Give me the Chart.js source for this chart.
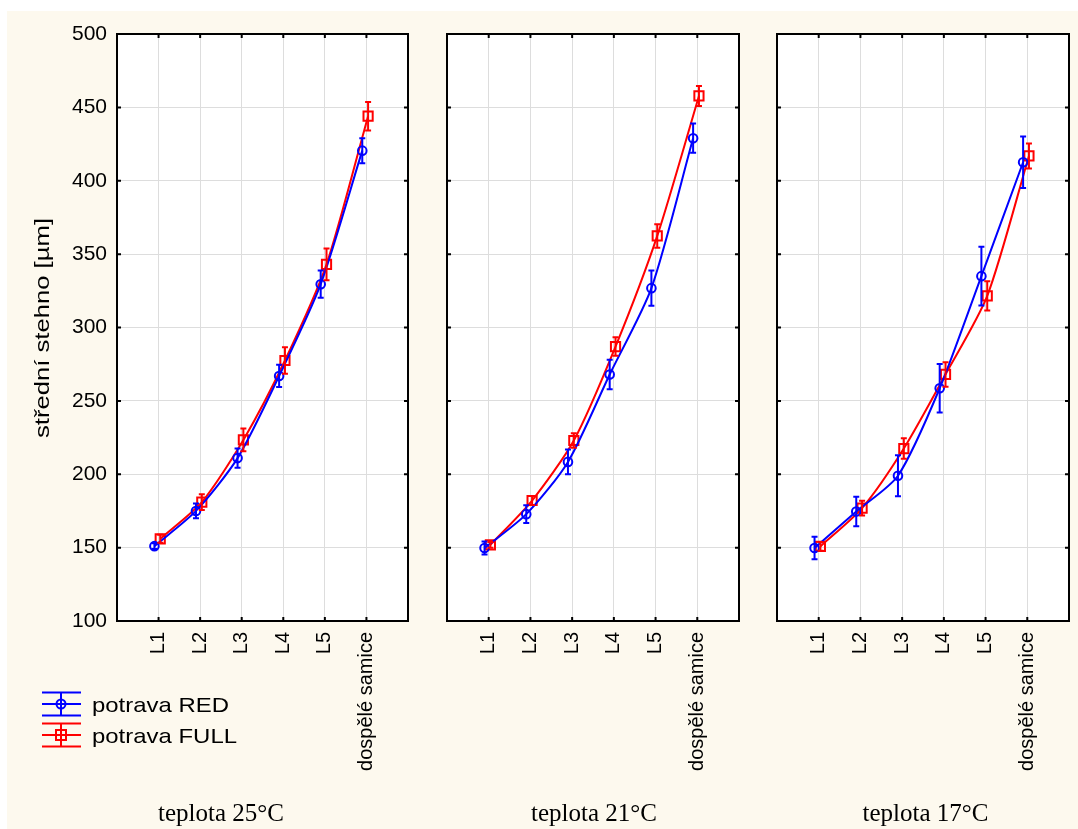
<!DOCTYPE html>
<html>
<head>
<meta charset="utf-8">
<script src="https://cdn.jsdelivr.net/npm/chart.js@4.4.1/dist/chart.umd.min.js"></script>
<style>
  body { margin: 0; background: #fff; }
  #page { position: relative; width: 1078px; height: 829px; overflow: hidden; }
  #bg { position: absolute; left: 7px; top: 11px; width: 1071px; height: 818px; background: #fdf9ee; }
  canvas { position: absolute; top: 11px; }
</style>
</head>
<body>
<div id="page">
  <div id="bg"></div>
  <canvas id="c1" style="left:7px;width:421px;height:818px" width="421" height="818"></canvas>
  <canvas id="c2" style="left:428px;width:330px;height:818px" width="330" height="818"></canvas>
  <canvas id="c3" style="left:758px;width:320px;height:818px" width="320" height="818"></canvas>
</div>
<script>
// data
const categories = ['L1', 'L2', 'L3', 'L4', 'L5', 'dospělé samice'];
const panelTitles = ['teplota 25°C', 'teplota 21°C', 'teplota 17°C'];
const seriesNames = ['potrava RED', 'potrava FULL'];
const yTicks = [100, 150, 200, 250, 300, 350, 400, 450, 500];

const red25 = [151, 175, 211, 267, 329.5, 420.5];
const redErr25 = [2, 5, 6.5, 7.6, 9.3, 8.5];
const full25 = [156, 181, 223.4, 277.5, 343, 444];
const fullErr25 = [2.7, 5.3, 7.7, 9, 10.8, 9.7];

const red21 = [149.7, 172.8, 208.4, 268, 326.8, 429];
const redErr21 = [4.4, 6, 8.4, 10, 12, 10];
const full21 = [151.9, 182.1, 223, 287, 362.4, 457.8];
const fullErr21 = [2, 3, 5, 6.3, 8, 6.8];

const red17 = [149.7, 174.6, 199, 258.6, 335, 412.6];
const redErr17 = [7.7, 10, 14, 16.6, 20, 17.6];
const full17 = [150.8, 176.9, 217.5, 268, 321.5, 416.9];
const fullErr17 = [3, 5, 7, 8.3, 10, 8.5];

const BLUE = '#0000ff';
const RED = '#ff0000';
const SANS = "'Liberation Sans', Arial, sans-serif";
const SERIF = "'Liberation Serif', 'Times New Roman', serif";

// stretch text to a given width (original text is a bit wider than Arial)
function fitText(ctx, text, x, y, width) {
  const w = ctx.measureText(text).width;
  ctx.save();
  ctx.translate(x, y);
  ctx.scale(width / w, 1);
  ctx.fillText(text, 0, 0);
  ctx.restore();
}

// white plot background
const plotBg = {
  id: 'plotBg',
  beforeDraw(chart) {
    const a = chart.chartArea;
    chart.ctx.save();
    chart.ctx.fillStyle = '#fff';
    chart.ctx.fillRect(a.left, a.top, a.right - a.left, a.bottom - a.top);
    chart.ctx.restore();
  }
};

const errorBars = {
  id: 'errorBars',
  afterDatasetsDraw(chart) {
    const ctx = chart.ctx, ys = chart.scales.y;
    chart.data.datasets.forEach((ds, di) => {
      const meta = chart.getDatasetMeta(di);
      ctx.save();
      ctx.strokeStyle = ds.borderColor;
      ctx.lineWidth = 2;
      meta.data.forEach((pt, i) => {
        const v = ds.data[i].y, e = ds.errors[i];
        const top = ys.getPixelForValue(v + e), bot = ys.getPixelForValue(v - e);
        ctx.beginPath();
        ctx.moveTo(pt.x, top); ctx.lineTo(pt.x, bot);
        ctx.moveTo(pt.x - 3, top); ctx.lineTo(pt.x + 3, top);
        ctx.moveTo(pt.x - 3, bot); ctx.lineTo(pt.x + 3, bot);
        ctx.stroke();
      });
      ctx.restore();
    });
  }
};

// black frame + short inner tick marks
const frame = {
  id: 'frame',
  afterDraw(chart) {
    const ctx = chart.ctx, a = chart.chartArea;
    ctx.save();
    ctx.strokeStyle = '#000';
    ctx.lineWidth = 2;
    ctx.strokeRect(a.left, a.top, a.right - a.left, a.bottom - a.top);
    ctx.beginPath();
    chart.scales.x.ticks.forEach(t => {
      const x = chart.scales.x.getPixelForValue(t.value);
      ctx.moveTo(x, a.top); ctx.lineTo(x, a.top + 4);
      ctx.moveTo(x, a.bottom); ctx.lineTo(x, a.bottom - 4);
    });
    chart.scales.y.ticks.forEach(t => {
      const y = chart.scales.y.getPixelForValue(t.value);
      ctx.moveTo(a.left, y); ctx.lineTo(a.left + 4, y);
      ctx.moveTo(a.right, y); ctx.lineTo(a.right - 4, y);
    });
    ctx.stroke();
    ctx.restore();
  }
};

const extras = {
  id: 'extras',
  afterDraw(chart, args, opts) {
    const ctx = chart.ctx;
    ctx.save();
    ctx.fillStyle = '#000';
    ctx.font = '25px ' + SERIF;
    ctx.textAlign = 'center';
    ctx.textBaseline = 'alphabetic';
    ctx.fillText(opts.title, opts.titleX, 810);

    if (opts.first) {
      // y axis title
      ctx.font = '21px ' + SANS;
      ctx.textBaseline = 'middle';
      ctx.save();
      ctx.translate(36, 317);
      ctx.rotate(-Math.PI / 2);
      ctx.textAlign = 'left';
      fitText(ctx, 'střední stehno [µm]', -110, 0, 220);
      ctx.restore();

      // legend
      const rows = [
        { name: seriesNames[0], color: BLUE, shape: 'circle', y: 693 },
        { name: seriesNames[1], color: RED, shape: 'rect', y: 724 }
      ];
      rows.forEach(r => {
        ctx.strokeStyle = r.color;
        ctx.lineWidth = 2;
        ctx.beginPath();
        [-11.5, 0, 11.5].forEach(dy => { ctx.moveTo(35, r.y + dy); ctx.lineTo(74, r.y + dy); });
        ctx.moveTo(54, r.y - 11.5); ctx.lineTo(54, r.y + 11.5);
        ctx.stroke();
        ctx.beginPath();
        if (r.shape === 'circle') ctx.arc(54, r.y, 4.5, 0, Math.PI * 2);
        else ctx.rect(49, r.y - 5, 10, 10);
        ctx.stroke();
        ctx.fillStyle = '#000';
        ctx.font = '21px ' + SANS;
        ctx.textAlign = 'left';
        ctx.textBaseline = 'middle';
        fitText(ctx, r.name, 85, r.y + 2, r.name === seriesNames[0] ? 137 : 145);
      });
    }
    ctx.restore();
  }
};

function points(values, offset) {
  return values.map((v, i) => ({ x: i + 1 + offset, y: v }));
}

function makePanel(id, idx, red, redErr, full, fullErr, yWidth, rightPad, titleX) {
  const first = idx === 0;
  new Chart(document.getElementById(id), {
    type: 'line',
    data: {
      datasets: [
        {
          label: seriesNames[0],
          data: points(red, -0.1),
          errors: redErr,
          borderColor: BLUE,
          backgroundColor: 'rgba(0,0,0,0)',
          borderWidth: 2,
          pointStyle: 'circle',
          pointRadius: 4.3,
          pointBorderWidth: 2,
          tension: 0.25
        },
        {
          label: seriesNames[1],
          data: points(full, 0.04),
          errors: fullErr,
          borderColor: RED,
          backgroundColor: 'rgba(0,0,0,0)',
          borderWidth: 2,
          pointStyle: 'rect',
          pointRadius: 6.5,
          pointBorderWidth: 2,
          tension: 0.25
        }
      ]
    },
    options: {
      responsive: false,
      animation: false,
      layout: { padding: { top: 23, right: rightPad, bottom: 0, left: 0 } },
      plugins: {
        legend: { display: false },
        tooltip: { enabled: false },
        extras: { title: panelTitles[idx], titleX: titleX, first: first }
      },
      scales: {
        x: {
          type: 'linear',
          min: 0,
          max: 7,
          afterFit: s => { s.height = 208; s.paddingLeft = 0; s.paddingRight = 0; },
          afterBuildTicks: s => { s.ticks = [0, 1, 2, 3, 4, 5, 6, 7].map(v => ({ value: v })); },
          grid: { color: '#dddddd', lineWidth: 1, drawTicks: false },
          border: { display: false },
          ticks: {
            autoSkip: false,
            minRotation: 90,
            maxRotation: 90,
            padding: 11,
            color: '#000',
            font: { family: SANS, size: 20 },
            callback: v => categories[v - 1] || ''
          }
        },
        y: {
          min: 100,
          max: 500,
          afterFit: s => { s.width = yWidth; s.paddingTop = 0; s.paddingBottom = 0; },
          afterBuildTicks: s => { s.ticks = yTicks.map(v => ({ value: v })); },
          grid: { color: '#dddddd', lineWidth: 1, drawTicks: false },
          border: { display: false },
          ticks: {
            display: first,
            padding: 10,
            color: '#000',
            font: { family: SANS, size: 21 }
          }
        }
      }
    },
    plugins: [plotBg, errorBars, frame, extras]
  });
}

makePanel('c1', 0, red25, redErr25, full25, fullErr25, 110, 20, 214);
makePanel('c2', 1, red21, redErr21, full21, fullErr21, 19, 19, 166);
makePanel('c3', 2, red17, redErr17, full17, fullErr17, 19, 9, 167.5);
</script>
</body>
</html>
